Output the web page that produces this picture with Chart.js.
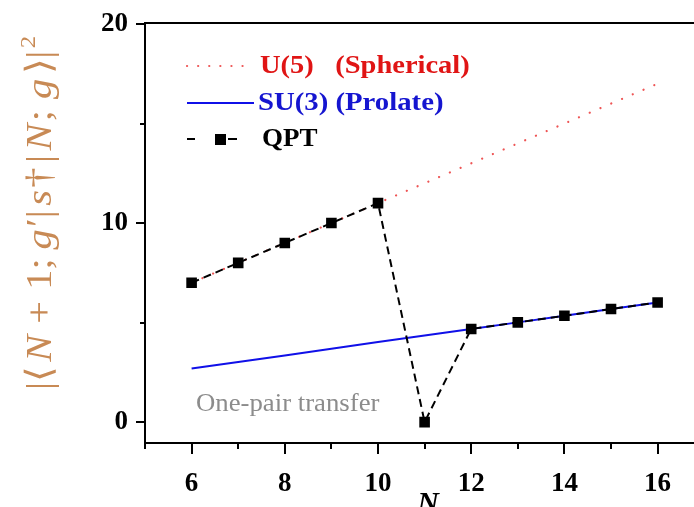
<!DOCTYPE html>
<html>
<head>
<meta charset="utf-8">
<script src="https://cdn.jsdelivr.net/npm/chart.js@4.4.1/dist/chart.umd.min.js"></script>
<style>
  html, body { margin: 0; padding: 0; background: #ffffff; }
  #wrap { width: 694px; height: 507px; }
</style>
</head>
<body>
<div id="wrap"><canvas id="c" width="694" height="507"></canvas></div>
<script>
// Boson number N and the one-pair transfer strengths
const nValues   = [6, 7, 8, 9, 10, 11, 12, 13, 14, 15, 16];
const u5Values  = [7, 8, 9, 10, 11, 12, 13, 14, 15, 16, 17];
const su3Values = [2.69, 3.02, 3.35, 3.68, 4.02, 4.35, 4.68, 5.01, 5.34, 5.68, 6.01];
const qptValues = [7, 8, 9, 10, 11, 0, 4.68, 5.01, 5.34, 5.68, 6.01];

// Axis ticks
const xTickLabels = [6, 8, 10, 12, 14, 16];
const xMinorTicks = [5, 7, 9, 11, 13, 15];
const yTickLabels = [0, 10, 20];
const yMinorTicks = [5, 15];

const SERIF = '"Liberation Serif", "Times New Roman", serif';
const toPoints = ys => nValues.map((n, i) => ({ x: n, y: ys[i] }));

// Text drawn with a slight horizontal stretch
function wideText(ctx, text, x, y, sx) {
  ctx.save();
  ctx.translate(x, y);
  ctx.scale(sx, 1);
  ctx.fillText(text, 0, 0);
  ctx.restore();
}

// Tick marks, frame, legend, annotation and axis titles
const decorPlugin = {
  id: 'decor',
  afterDraw(chart) {
    const ctx = chart.ctx;
    const area = chart.chartArea;
    const xs = chart.scales.x, ys = chart.scales.y;
    ctx.save();
    ctx.strokeStyle = '#000';
    ctx.lineWidth = 2;
    ctx.lineCap = 'butt';
    const seg = (x1, y1, x2, y2) => { ctx.beginPath(); ctx.moveTo(x1, y1); ctx.lineTo(x2, y2); ctx.stroke(); };
    // frame lines run on to the canvas edge
    seg(area.left - 1, area.top, chart.width, area.top);
    seg(area.right - 1, area.bottom, chart.width, area.bottom);
    // outward ticks
    xTickLabels.forEach(v => { const p = Math.round(xs.getPixelForValue(v)); seg(p, area.bottom, p, area.bottom + 11); });
    xMinorTicks.forEach(v => { const p = Math.round(xs.getPixelForValue(v)); seg(p, area.bottom, p, area.bottom + 6); });
    yTickLabels.forEach(v => { const p = Math.round(ys.getPixelForValue(v)); seg(area.left, p, area.left - 9, p); });
    yMinorTicks.forEach(v => { const p = Math.round(ys.getPixelForValue(v)); seg(area.left, p, area.left - 5, p); });

    // legend
    ctx.textBaseline = 'middle';
    ctx.textAlign = 'left';
    ctx.strokeStyle = '#ee5555';
    ctx.lineWidth = 2.2;
    ctx.lineCap = 'round';
    ctx.setLineDash([0.1, 11]);
    seg(187, 66, 243, 66);
    ctx.setLineDash([]);
    ctx.font = 'bold 25px ' + SERIF;
    ctx.fillStyle = '#e01515';
    wideText(ctx, 'U(5)   (Spherical)', 260, 67, 1.14);

    ctx.strokeStyle = '#1010e8';
    ctx.lineWidth = 2;
    ctx.lineCap = 'butt';
    seg(187, 103, 254, 103);
    ctx.fillStyle = '#1515d0';
    wideText(ctx, 'SU(3) (Prolate)', 258, 104, 1.15);

    ctx.strokeStyle = '#000';
    seg(187, 139, 195, 139);
    seg(228, 139, 237, 139);
    ctx.fillStyle = '#000';
    ctx.fillRect(215, 134, 11, 11);
    wideText(ctx, 'QPT', 262, 140, 1.08);

    // annotation
    ctx.font = '25px ' + SERIF;
    ctx.fillStyle = '#8c8c8c';
    wideText(ctx, 'One-pair transfer', 196, 404, 1.07);

    // x title
    ctx.font = 'bold italic 30px ' + SERIF;
    ctx.fillStyle = '#000';
    ctx.textAlign = 'center';
    ctx.fillText('N', 428, 504);

    // y title, mixed upright / italic segments
    const size = 36;
    const stretch = 1.12;
    const segs = [
      ['|⟨', false, 4], ['N', true, 10], ['+', false, 10], ['1;', false, 8], ['g', true, 2], ['′|', false, 4],
      ['s', true, 2], ['†', false, 4], ['|', false, 4], ['N', true, 2], [';', false, 10], ['g', true, 4], ['⟩|', false, 2]
    ];
    const fontOf = it => (it ? 'italic ' : '') + size + 'px ' + SERIF;
    let total = 0;
    segs.forEach(([t, it, gap]) => { ctx.font = fontOf(it); total += ctx.measureText(t).width + gap; });
    ctx.font = '22px ' + SERIF;
    total += ctx.measureText('2').width;
    ctx.translate(42, 213);
    ctx.rotate(-Math.PI / 2);
    ctx.scale(stretch, 1);
    ctx.textAlign = 'left';
    ctx.fillStyle = '#c88a55';
    let x = -total / 2;
    segs.forEach(([t, it, gap]) => { ctx.font = fontOf(it); ctx.fillText(t, x, 0); x += ctx.measureText(t).width + gap; });
    ctx.font = '22px ' + SERIF;
    ctx.fillText('2', x, -13);
    ctx.restore();
  }
};

new Chart(document.getElementById('c'), {
  type: 'line',
  data: {
    datasets: [
      {
        label: 'QPT',
        data: toPoints(qptValues),
        borderColor: '#000000',
        borderWidth: 2,
        borderDash: [8, 5],
        pointStyle: 'rect',
        pointRadius: 7.5,
        pointBackgroundColor: '#000000',
        pointBorderWidth: 0,
        order: 0
      },
      {
        label: 'SU(3) (Prolate)',
        data: toPoints(su3Values),
        borderColor: '#1010e8',
        borderWidth: 2,
        pointRadius: 0,
        order: 1
      },
      {
        label: 'U(5)   (Spherical)',
        data: toPoints(u5Values),
        borderColor: '#ee5555',
        borderWidth: 2.2,
        borderDash: [0.1, 11.6],
        borderCapStyle: 'round',
        pointRadius: 0,
        order: 2
      }
    ]
  },
  options: {
    responsive: false,
    animation: false,
    devicePixelRatio: 1,
    layout: { padding: { left: 0, top: 23, right: 0, bottom: 0 } },
    plugins: { legend: { display: false }, tooltip: { enabled: false } },
    scales: {
      x: {
        type: 'linear',
        min: 5,
        max: 16.62,
        grid: { display: false, drawTicks: false },
        border: { display: true, color: '#000', width: 2 },
        ticks: { color: '#000', font: { family: SERIF, size: 27, weight: 'bold' }, padding: 25 },
        afterBuildTicks: s => { s.ticks = xTickLabels.map(v => ({ value: v })); },
        afterFit: s => { s.height = 64; s.paddingLeft = 0; s.paddingRight = 0; }
      },
      y: {
        type: 'linear',
        min: -1.05,
        max: 20.05,
        grid: { display: false, drawTicks: false },
        border: { display: true, color: '#000', width: 2 },
        ticks: { color: '#000', font: { family: SERIF, size: 27, weight: 'bold' }, padding: 17 },
        afterBuildTicks: s => { s.ticks = yTickLabels.map(v => ({ value: v })); },
        afterFit: s => { s.width = 145; s.paddingTop = 0; s.paddingBottom = 0; }
      }
    }
  },
  plugins: [decorPlugin]
});
</script>
</body>
</html>
